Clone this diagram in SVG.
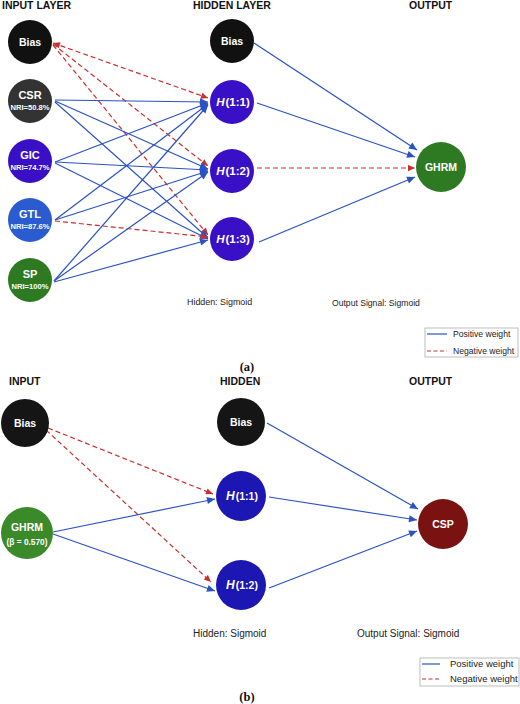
<svg xmlns="http://www.w3.org/2000/svg" width="520" height="704" viewBox="0 0 520 704">
<defs>
<marker id="ab" viewBox="0 0 10 10" refX="10" refY="5" markerWidth="9" markerHeight="8" markerUnits="userSpaceOnUse" orient="auto"><path d="M0,0.5 L10,5 L0,9.5 z" fill="#2a52c4"/></marker>
<marker id="ar" viewBox="0 0 10 10" refX="10" refY="5" markerWidth="8" markerHeight="7" markerUnits="userSpaceOnUse" orient="auto-start-reverse"><path d="M0,0.5 L10,5 L0,9.5 z" fill="#c8302c"/></marker>
<style>
.hd{font-family:"Liberation Sans",Arial,sans-serif;font-weight:bold;font-size:10.5px;fill:#111}
.nt{font-family:"Liberation Sans",Arial,sans-serif;font-weight:bold;fill:#fff;text-anchor:middle}
.lb{font-family:"Liberation Sans",Arial,sans-serif;fill:#222}
.cap{font-family:"Liberation Serif","Times New Roman",serif;font-weight:bold;font-size:12.5px;fill:#111;text-anchor:middle}
.pos{stroke:#2a52c4;stroke-width:1.2;fill:none}
.neg{stroke:#c8302c;stroke-width:1.2;fill:none;stroke-dasharray:5 3}
.pe{marker-end:url(#ab)}
.ne{marker-end:url(#ar)}
.lg{fill:#fff;stroke:#bdbdbd;stroke-width:1}
</style>
</defs>
<rect width="520" height="704" fill="#fff"/>

<!-- headers (a) -->
<text class="hd" x="2" y="9">INPUT LAYER</text>
<text class="hd" x="193" y="9">HIDDEN LAYER</text>
<text class="hd" x="409" y="9">OUTPUT</text>

<g id="connectors">
<!-- (a) input -> hidden -->
<line class="neg ne" x1="53" y1="43" x2="208" y2="98" style="marker-start:url(#ar)"/>
<line class="neg ne" x1="53" y1="44" x2="208" y2="166"/>
<line class="neg ne" x1="53" y1="45" x2="208" y2="235"/>
<line class="pos pe" x1="55" y1="100" x2="208" y2="102"/>
<line class="pos pe" x1="55" y1="101" x2="208" y2="169"/>
<line class="pos pe" x1="55" y1="102" x2="208" y2="238"/>
<line class="pos pe" x1="55" y1="162" x2="208" y2="103"/>
<line class="pos pe" x1="55" y1="162" x2="208" y2="170"/>
<line class="pos pe" x1="55" y1="163" x2="208" y2="239"/>
<line class="pos pe" x1="55" y1="220" x2="208" y2="104"/>
<line class="pos pe" x1="55" y1="220" x2="208" y2="171"/>
<line class="neg ne" x1="55" y1="221" x2="208" y2="237"/>
<line class="pos pe" x1="54" y1="281" x2="208" y2="105"/>
<line class="pos pe" x1="54" y1="281" x2="208" y2="172"/>
<line class="pos pe" x1="54" y1="282" x2="208" y2="240"/>
<!-- (a) hidden -> output -->
<line class="pos pe" x1="254" y1="43" x2="417" y2="150"/>
<line class="pos pe" x1="257" y1="103" x2="415" y2="157"/>
<line class="neg ne" x1="257" y1="168" x2="415" y2="168"/>
<line class="pos pe" x1="259" y1="242" x2="415" y2="177"/>
<!-- (b) input -> hidden -->
<line class="neg ne" x1="48" y1="428" x2="213" y2="494"/>
<line class="neg ne" x1="46" y1="430" x2="211" y2="582"/>
<line class="pos pe" x1="53" y1="532" x2="215" y2="499"/>
<line class="pos pe" x1="53" y1="534" x2="215" y2="591"/>
<!-- (b) hidden -> output -->
<line class="pos pe" x1="267" y1="423" x2="418" y2="509"/>
<line class="pos pe" x1="269" y1="497" x2="417" y2="520"/>
<line class="pos pe" x1="269" y1="588" x2="417" y2="531"/>
</g>

<!-- (a) nodes -->
<g id="a-in-bias"><circle cx="30" cy="42" r="22" fill="#111"/><text class="nt" x="30" y="46" font-size="10.5">Bias</text></g>
<g id="a-in-csr"><circle cx="30" cy="101" r="22" fill="#333"/><text class="nt" x="30" y="99" font-size="11">CSR</text><text class="nt" x="30" y="110" font-size="7.6">NRI=50.8%</text></g>
<g id="a-in-gic"><circle cx="30" cy="161" r="22" fill="#3a10c6"/><text class="nt" x="30" y="159" font-size="11">GIC</text><text class="nt" x="30" y="170" font-size="7.6">NRI=74.7%</text></g>
<g id="a-in-gtl"><circle cx="30" cy="220" r="22" fill="#2a5ccf"/><text class="nt" x="30" y="218" font-size="11">GTL</text><text class="nt" x="30" y="229" font-size="7.6">NRI=87.6%</text></g>
<g id="a-in-sp"><circle cx="30" cy="280" r="22" fill="#2e7a22"/><text class="nt" x="30" y="278" font-size="11">SP</text><text class="nt" x="30" y="289" font-size="7.6">NRI=100%</text></g>

<g id="a-h-bias"><circle cx="232" cy="41" r="22" fill="#111"/><text class="nt" x="232" y="45" font-size="10.5">Bias</text></g>
<g id="a-h11"><circle cx="232" cy="102" r="22" fill="#3a10c6"/><text class="nt" x="233" y="106" font-size="11.5"><tspan font-style="italic">H</tspan><tspan dx="1">(1:1)</tspan></text></g>
<g id="a-h12"><circle cx="232" cy="171" r="22" fill="#3a10c6"/><text class="nt" x="233" y="175" font-size="11.5"><tspan font-style="italic">H</tspan><tspan dx="1">(1:2)</tspan></text></g>
<g id="a-h13"><circle cx="232" cy="239" r="22" fill="#3a10c6"/><text class="nt" x="233" y="243" font-size="11.5"><tspan font-style="italic">H</tspan><tspan dx="1">(1:3)</tspan></text></g>

<g id="a-out-ghrm"><circle cx="441" cy="167" r="25" fill="#2e7a22"/><text class="nt" x="441" y="171" font-size="10.5">GHRM</text></g>

<text class="lb" x="187" y="305" font-size="8.9">Hidden: Sigmoid</text>
<text class="lb" x="332" y="306" font-size="8.6">Output Signal: Sigmoid</text>

<g id="a-legend">
<rect class="lg" x="425" y="328" width="93" height="29"/>
<line class="pos" x1="427" y1="334" x2="447" y2="334"/>
<line class="neg" x1="427" y1="351" x2="447" y2="351" style="stroke-dasharray:4 2.5"/>
<text class="lb" x="453" y="337" font-size="8.6">Positive weight</text>
<text class="lb" x="453" y="354" font-size="8.6">Negative weight</text>
</g>

<text class="cap" x="247" y="371">(a)</text>

<!-- (b) headers -->
<text class="hd" x="9" y="385">INPUT</text>
<text class="hd" x="220" y="385">HIDDEN</text>
<text class="hd" x="409" y="385">OUTPUT</text>

<g id="b-in-bias"><circle cx="25" cy="423" r="24" fill="#151515"/><text class="nt" x="25" y="427" font-size="10.5">Bias</text></g>
<g id="b-in-ghrm"><circle cx="27" cy="533" r="26" fill="#3a8a2a"/><text class="nt" x="27" y="531" font-size="10.5">GHRM</text><text class="nt" x="27" y="545" font-size="8.3">(β = 0.570)</text></g>

<g id="b-h-bias"><circle cx="241" cy="422" r="24" fill="#151515"/><text class="nt" x="241" y="426" font-size="10.5">Bias</text></g>
<g id="b-h11"><circle cx="241" cy="496" r="25" fill="#1c16b2"/><text class="nt" x="242" y="500" font-size="10.5"><tspan font-style="italic" font-size="12">H</tspan><tspan dx="1">(1:1)</tspan></text></g>
<g id="b-h12"><circle cx="241" cy="585" r="25" fill="#1c16b2"/><text class="nt" x="242" y="589" font-size="10.5"><tspan font-style="italic" font-size="12">H</tspan><tspan dx="1">(1:2)</tspan></text></g>

<g id="b-out-csp"><circle cx="443" cy="524" r="25" fill="#7a1212"/><text class="nt" x="443" y="528" font-size="10.5">CSP</text></g>

<text class="lb" x="193" y="637" font-size="10">Hidden: Sigmoid</text>
<text class="lb" x="357" y="637" font-size="10">Output Signal: Sigmoid</text>

<g id="b-legend">
<rect class="lg" x="420" y="658" width="99" height="28"/>
<line class="pos" x1="422" y1="664" x2="440" y2="664"/>
<line class="neg" x1="422" y1="679" x2="440" y2="679" style="stroke-dasharray:4 2.5"/>
<text class="lb" x="450" y="667" font-size="9.5">Positive weight</text>
<text class="lb" x="450" y="682" font-size="9.5">Negative weight</text>
</g>

<text class="cap" x="247" y="701">(b)</text>
</svg>
